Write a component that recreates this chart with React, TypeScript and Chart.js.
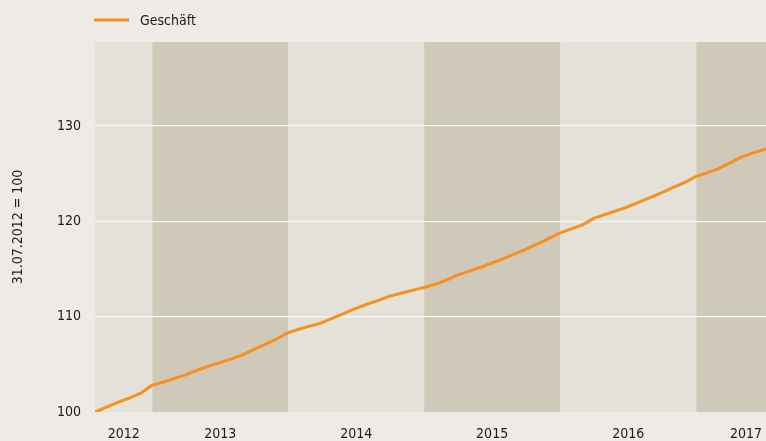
import { useEffect, useRef } from "react";
import { Chart, registerables } from "chart.js";

Chart.register(...registerables);

const seriesLabel = "Geschäft";
const yAxisTitle = "31.07.2012 = 100";

const dates = [
  "2012-07-31", "2012-08-31", "2012-09-30", "2012-10-31", "2012-11-30", "2012-12-31",
  "2013-01-31", "2013-02-28", "2013-03-31", "2013-04-30", "2013-05-31", "2013-06-30",
  "2013-07-31", "2013-08-31", "2013-09-30", "2013-10-31", "2013-11-30", "2013-12-31",
  "2014-01-31", "2014-02-28", "2014-03-31", "2014-04-30", "2014-05-31", "2014-06-30",
  "2014-07-31", "2014-08-31", "2014-09-30", "2014-10-31", "2014-11-30", "2014-12-31",
  "2015-01-31", "2015-02-28", "2015-03-31", "2015-04-30", "2015-05-31", "2015-06-30",
  "2015-07-31", "2015-08-31", "2015-09-30", "2015-10-31", "2015-11-30", "2015-12-31",
  "2016-01-31", "2016-02-29", "2016-03-31", "2016-04-30", "2016-05-31", "2016-06-30",
  "2016-07-31", "2016-08-31", "2016-09-30", "2016-10-31", "2016-11-30", "2016-12-31",
  "2017-01-31", "2017-02-28", "2017-03-31", "2017-04-30", "2017-05-31", "2017-06-30",
  "2017-07-07",
];

const values = [
  100.0, 100.5, 101.0, 101.45, 101.95, 102.8,
  103.15, 103.5, 103.9, 104.35, 104.8, 105.15,
  105.55, 106.0, 106.55, 107.1, 107.65, 108.3,
  108.7, 109.0, 109.35, 109.85, 110.35, 110.85,
  111.3, 111.7, 112.15, 112.45, 112.75, 113.05,
  113.4, 113.8, 114.35, 114.75, 115.15, 115.6,
  116.05, 116.55, 117.05, 117.6, 118.15, 118.75,
  119.2, 119.6, 120.3, 120.7, 121.1, 121.5,
  122.0, 122.5, 123.0, 123.55, 124.05, 124.7,
  125.1, 125.5, 126.1, 126.7, 127.15, 127.5,
  127.6,
];

const years = [2012, 2013, 2014, 2015, 2016, 2017];
const yTicks = [100, 110, 120, 130];
const yMin = 100;
const yMax = 138.8;

const PAGE_BG = "#EEEBE6";
const BAND_LIGHT = "#E4E1D9";
const BAND_DARK = "#CFC9BA";
const LINE_COLOR = "#F7901E";
const TEXT_COLOR = "#1b1b1b";
const GRID_COLOR = "#FAF9F6";
const FONT_FAMILY = '"DejaVu Sans Condensed", "DejaVu Sans", sans-serif';
const FONT_STYLE = "normal condensed";
const FONT_SIZE = 14;

const W = 766;
const H = 441;
const PLOT_LEFT = 95;
const PLOT_TOP = 42;
const X_AXIS_H = 29;

const xMin = Date.parse(dates[0]);
const xMax = Date.parse(dates[dates.length - 1]);
const yearStart = (y: number) => Date.UTC(y, 0, 1);

// label positions: centre of the visible part of each year's band; the last (cut) band label is kept inside the edge
const msPerPx = (xMax - xMin) / (W - PLOT_LEFT);
const labelValues = years.map((y, i) => {
  const a = Math.max(yearStart(y), xMin);
  const b = Math.min(yearStart(y + 1), xMax);
  if (i === years.length - 1 && b === xMax) return xMax - 20 * msPerPx;
  return (a + b) / 2;
});

const fontSpec = { family: FONT_FAMILY, size: FONT_SIZE, style: FONT_STYLE };

const bandPlugin = {
  id: "yearBands",
  beforeDraw(chart: any) {
    const { ctx, chartArea } = chart;
    const xs = chart.scales.x;
    ctx.save();
    years.forEach((y, i) => {
      const a = Math.max(yearStart(y), xMin);
      const b = Math.min(yearStart(y + 1), xMax);
      const x0 = xs.getPixelForValue(a);
      const x1 = xs.getPixelForValue(b);
      ctx.fillStyle = i % 2 === 0 ? BAND_LIGHT : BAND_DARK;
      ctx.fillRect(x0, chartArea.top, x1 - x0, chartArea.bottom - chartArea.top);
    });
    ctx.restore();
  },
};

const legendPlugin = {
  id: "customLegend",
  afterDraw(chart: any) {
    const { ctx, chartArea } = chart;
    const y = 20;
    const x0 = chartArea.left - 1;
    ctx.save();
    ctx.strokeStyle = LINE_COLOR;
    ctx.lineWidth = 3;
    ctx.beginPath();
    ctx.moveTo(x0, y);
    ctx.lineTo(x0 + 35, y);
    ctx.stroke();
    ctx.fillStyle = TEXT_COLOR;
    ctx.font = `${FONT_STYLE} ${FONT_SIZE}px ${FONT_FAMILY}`;
    ctx.textBaseline = "middle";
    ctx.textAlign = "left";
    ctx.fillText(chart.data.datasets[0].label, x0 + 46, y + 1);
    ctx.restore();
  },
};

export default function App() {
  const ref = useRef<HTMLCanvasElement | null>(null);

  useEffect(() => {
    if (!ref.current) return;
    const chart = new Chart(ref.current, {
      type: "line",
      data: {
        datasets: [
          {
            label: seriesLabel,
            data: dates.map((d, i) => ({ x: Date.parse(d), y: values[i] })),
            borderColor: LINE_COLOR,
            backgroundColor: LINE_COLOR,
            borderWidth: 3,
            pointRadius: 0,
            tension: 0,
            borderJoinStyle: "round",
            fill: false,
          },
        ],
      },
      options: {
        responsive: false,
        animation: false,
        layout: { padding: { top: PLOT_TOP, left: 0, right: 0, bottom: 0 } },
        plugins: {
          legend: { display: false },
          tooltip: { enabled: false },
        },
        scales: {
          x: {
            type: "linear",
            min: xMin,
            max: xMax,
            grid: { display: false },
            border: { display: false },
            afterBuildTicks: (s: any) => {
              s.ticks = labelValues.map((v) => ({ value: v }));
            },
            afterFit: (s: any) => {
              s.height = X_AXIS_H;
              s.paddingLeft = 0;
              s.paddingRight = 0;
            },
            ticks: {
              autoSkip: false,
              maxRotation: 0,
              padding: 6,
              color: TEXT_COLOR,
              font: fontSpec,
              callback: (_v: any, i: number) => String(years[i]),
            },
          },
          y: {
            min: yMin,
            max: yMax,
            grid: {
              color: (c: any) => (c.tick && c.tick.value === yMin ? "rgba(0,0,0,0)" : GRID_COLOR),
              lineWidth: 1.3,
              drawTicks: false,
            },
            border: { display: false },
            afterBuildTicks: (s: any) => {
              s.ticks = yTicks.map((v) => ({ value: v }));
            },
            afterFit: (s: any) => {
              s.width = PLOT_LEFT;
            },
            ticks: {
              padding: 14,
              color: TEXT_COLOR,
              font: fontSpec,
              callback: (v: any) => String(v),
            },
            title: {
              display: true,
              text: yAxisTitle,
              color: TEXT_COLOR,
              font: fontSpec,
              padding: { top: 10, bottom: 0 },
            },
          },
        },
      },
      plugins: [bandPlugin, legendPlugin],
    } as any);
    return () => chart.destroy();
  }, []);

  return (
    <div
      style={{
        position: "fixed",
        left: 0,
        top: 0,
        width: W,
        height: H,
        background: PAGE_BG,
      }}
    >
      <canvas ref={ref} width={W} height={H} style={{ display: "block" }} />
    </div>
  );
}
